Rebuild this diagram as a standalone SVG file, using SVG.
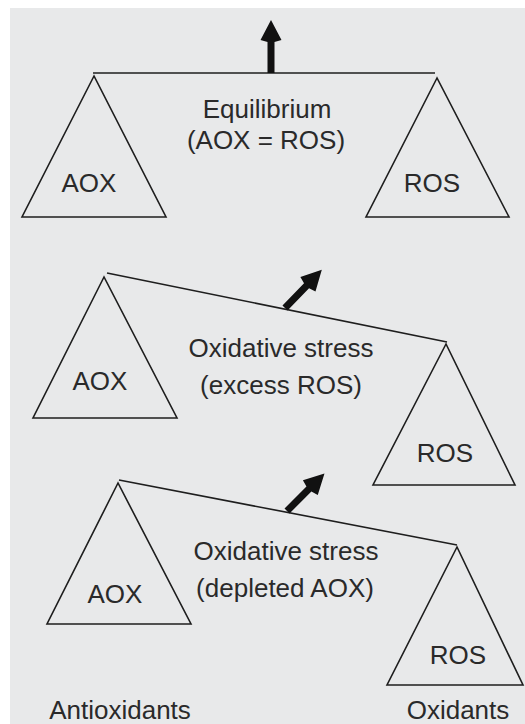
<svg xmlns="http://www.w3.org/2000/svg" xmlns:xlink="http://www.w3.org/1999/xlink" width="525" height="724" viewBox="0 0 525 724">
<style>
.tri{fill:none;stroke:#1e1e1e;stroke-width:1.6;stroke-linejoin:miter}
.beam{fill:none;stroke:#1e1e1e;stroke-width:1.6}
.arr{fill:#111;stroke:none}
text{font-family:"Liberation Sans",Arial,Helvetica,sans-serif;font-size:26px;fill:#2a2a2a;text-anchor:middle}
</style>
<defs>
<path id="arr" d="M-3.5,0 V-31 L-10.5,-33 L0,-53 L10.5,-33 L3.5,-31 V0 Z"/>
</defs>
<rect x="0" y="0" width="525" height="724" fill="#ffffff"/>
<rect x="10" y="8" width="515" height="716" fill="#e8e9ea"/>

<g id="connectors">
<line class="beam" x1="93" y1="73" x2="435" y2="73"/>
<line class="beam" x1="107" y1="273" x2="447" y2="342"/>
<line class="beam" x1="119" y1="480" x2="457" y2="545"/>
<use href="#arr" class="arr" transform="translate(271,73)"/>
<use href="#arr" class="arr" transform="translate(285,308) rotate(44)"/>
<use href="#arr" class="arr" transform="translate(287,511) rotate(45)"/>
</g>

<g id="top-aox">
<polygon class="tri" points="94,76 22,217 166,217"/>
<text x="89" y="192">AOX</text>
</g>
<g id="top-ros">
<polygon class="tri" points="437,78 366,217 509,217"/>
<text x="432" y="192">ROS</text>
</g>
<g id="top-label">
<text x="267" y="118">Equilibrium</text>
<text x="266" y="149">(AOX = ROS)</text>
</g>

<g id="mid-aox">
<polygon class="tri" points="104,277 33,418 177,418"/>
<text x="100" y="390">AOX</text>
</g>
<g id="mid-ros">
<polygon class="tri" points="446,344 373,485 515,485"/>
<text x="445" y="462">ROS</text>
</g>
<g id="mid-label">
<text x="281" y="357">Oxidative stress</text>
<text x="281" y="394">(excess ROS)</text>
</g>

<g id="bot-aox">
<polygon class="tri" points="118,483 47,624 191,624"/>
<text x="115" y="603">AOX</text>
</g>
<g id="bot-ros">
<polygon class="tri" points="457,547 387,685 523,685"/>
<text x="458" y="664">ROS</text>
</g>
<g id="bot-label">
<text x="286" y="560">Oxidative stress</text>
<text x="285" y="597">(depleted AOX)</text>
</g>

<g id="legend">
<text x="120" y="719">Antioxidants</text>
<text x="458" y="719">Oxidants</text>
</g>
</svg>
